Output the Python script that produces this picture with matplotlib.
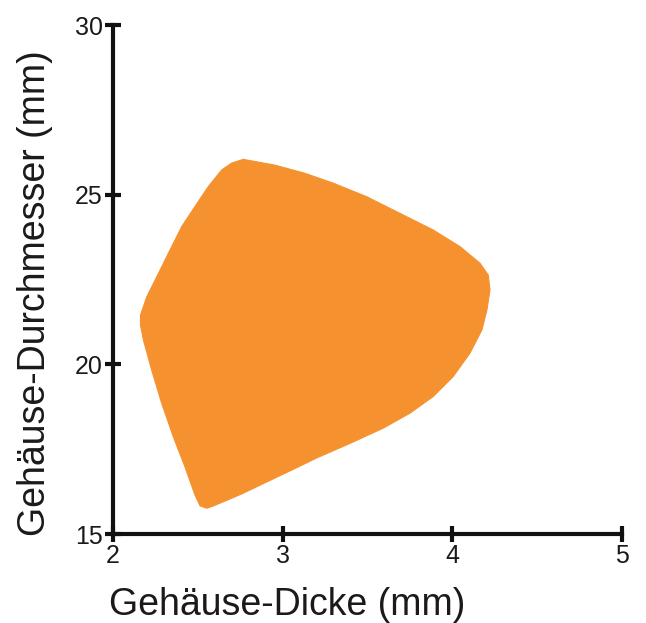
import matplotlib
matplotlib.use("Agg")
import matplotlib.pyplot as plt

plt.rcParams['font.family'] = ['Liberation Sans', 'DejaVu Sans']

# Outline of the shaded region (Gehäuse-Dicke, Gehäuse-Durchmesser)
region_x = [2.768, 2.955, 3.131, 3.298, 3.495, 3.691, 3.887, 4.045, 4.163, 4.212,
            4.222, 4.204, 4.174, 4.104, 4.005, 3.887, 3.750, 3.593, 3.397, 3.200,
            3.102, 2.955, 2.758, 2.660, 2.583, 2.552, 2.513, 2.483, 2.424, 2.355,
            2.287, 2.228, 2.179, 2.162, 2.162, 2.199, 2.258, 2.326, 2.405, 2.483,
            2.562, 2.641, 2.699]
region_y = [26.04, 25.87, 25.63, 25.34, 24.94, 24.45, 23.96, 23.47, 22.98, 22.63,
            22.19, 21.60, 21.01, 20.33, 19.64, 19.05, 18.56, 18.12, 17.67, 17.24,
            17.00, 16.65, 16.18, 15.97, 15.81, 15.76, 15.83, 16.15, 16.98, 17.87,
            18.85, 19.83, 20.72, 21.16, 21.45, 21.99, 22.58, 23.27, 24.06, 24.65,
            25.24, 25.73, 25.93]

x_ticks = [2, 3, 4, 5]
y_ticks = [15, 20, 25, 30]
x_label = "Gehäuse-Dicke (mm)"
y_label = "Gehäuse-Durchmesser (mm)"

fig = plt.figure(figsize=(6.46, 6.23), dpi=100)
ax = fig.add_axes([113/646, 1-534/623, (622-113)/646, (534-25)/623])

ax.fill(region_x, region_y, color='#F5922F', linewidth=0.8, edgecolor='#F5922F',
        joinstyle='round')

ax.set_xlim(2, 5)
ax.set_ylim(15, 30)
ax.set_xticks(x_ticks)
ax.set_yticks(y_ticks)

for s in ['top', 'right']:
    ax.spines[s].set_visible(False)
for s in ['left', 'bottom']:
    ax.spines[s].set_linewidth(3)
    ax.spines[s].set_color('#111111')
    ax.spines[s].set_capstyle('projecting')

ax.tick_params(axis='both', direction='inout', length=11, width=3, color='#111111',
               labelsize=18, labelcolor='#1a1a1a')
ax.tick_params(axis='x', pad=2)
ax.tick_params(axis='y', pad=2)

ax.set_xlabel(x_label, fontsize=27, color='#1a1a1a')
ax.set_ylabel(y_label, fontsize=27, color='#1a1a1a')
ax.xaxis.set_label_coords(0.342, -0.104)
ax.yaxis.set_label_coords(-0.118, 0.473)

fig.savefig("out.png", dpi=100)
